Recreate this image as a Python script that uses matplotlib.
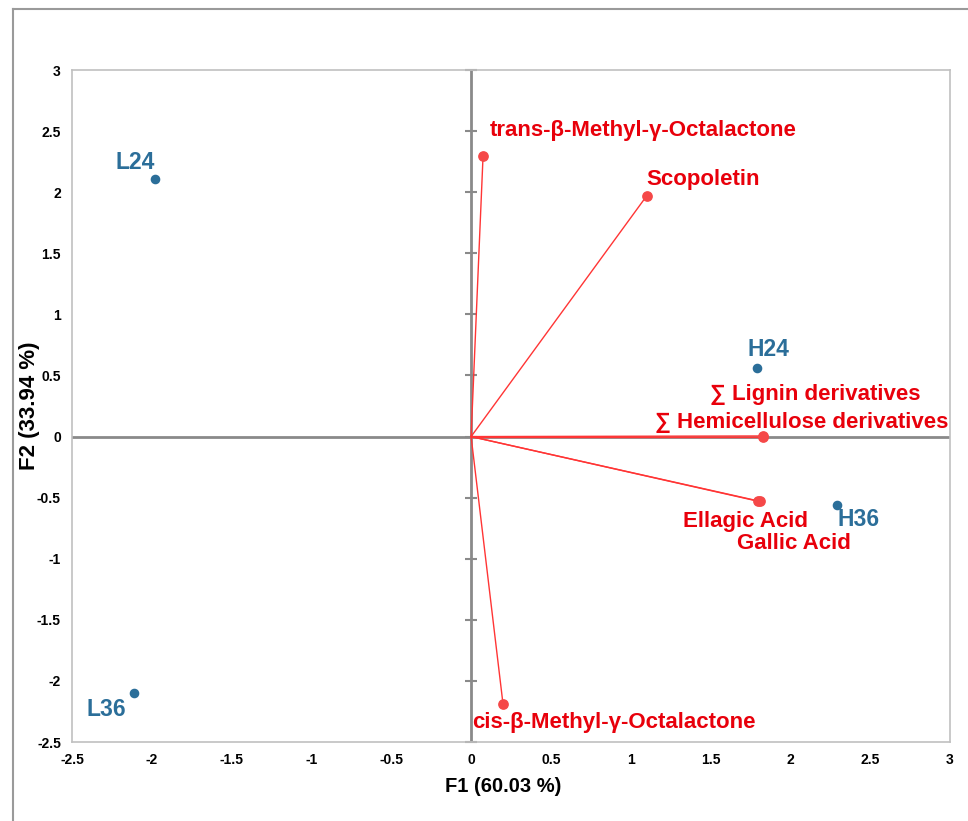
import numpy as np
import matplotlib.pyplot as plt
from matplotlib.lines import Line2D

plt.rcParams['font.family'] = ['Liberation Sans', 'DejaVu Sans']
plt.rcParams['font.weight'] = 'bold'

# observations (samples)
obs_names = ["L24", "L36", "H24", "H36"]
obs_f1 = [-1.98, -2.11, 1.79, 2.29]
obs_f2 = [2.11, -2.10, 0.56, -0.56]

# variables (loadings)
var_names = ["trans-β-Methyl-γ-Octalactone", "Scopoletin", "∑ Lignin derivatives",
             "∑ Hemicellulose derivatives", "Ellagic Acid", "Gallic Acid",
             "cis-β-Methyl-γ-Octalactone"]
var_f1 = [0.075, 1.10, 1.83, 1.83, 1.80, 1.81, 0.20]
var_f2 = [2.30, 1.97, 0.005, 0.0, -0.53, -0.53, -2.19]

xticks = [-2.5, -2, -1.5, -1, -0.5, 0, 0.5, 1, 1.5, 2, 2.5, 3]
yticks = [-2.5, -2, -1.5, -1, -0.5, 0, 0.5, 1, 1.5, 2, 2.5, 3]

# label offsets in pixels (dx, dy, ha)
obs_off = [(-20, 16, 'center'), (-28, -16, 'center'), (12, 19, 'center'), (1, -15, 'left')]
var_off = [(7, 25, 'left'), (0, 16, 'left'), (52, 41, 'center'), (38, 14, 'center'),
           (-13, -20, 'center'), (34, -42, 'center'), (-31, -18, 'left')]

blue = "#2b6e99"
red_pt = "#f54848"
red_txt = "#e8000b"

fig = plt.figure(figsize=(9.68, 8.21), dpi=100)
ax = fig.add_axes([0.0744, 0.0962, 0.907, 0.8185])

# outer frame (left and top edges visible)
fig.add_artist(Line2D([13 / 968, 13 / 968], [0, 1 - 9 / 821], color="#9a9a9a", lw=1.5,
                      transform=fig.transFigure))
fig.add_artist(Line2D([13 / 968, 1], [1 - 9 / 821, 1 - 9 / 821], color="#9a9a9a", lw=1.5,
                      transform=fig.transFigure))

ax.set_xlim(-2.5, 3)
ax.set_ylim(-2.5, 3)
ax.set_xticks(xticks)
ax.set_yticks(yticks)
ax.set_xticklabels([f"{t:g}" for t in xticks])
ax.set_yticklabels([f"{t:g}" for t in yticks])
ax.tick_params(length=0, labelsize=10, pad=8)
for lab in ax.get_xticklabels() + ax.get_yticklabels():
    lab.set_fontweight('bold')
for sp in ax.spines.values():
    sp.set_color("#c0c0c0")
    sp.set_linewidth(1.2)

# zero axes, vertical one with cross ticks
ax.axhline(0, color="#8a8a8a", lw=2, zorder=1)
ax.axvline(0, color="#8a8a8a", lw=2, zorder=1)
ax.plot(np.zeros(len(yticks)), yticks, ls='none', marker='_', ms=8, mew=1.5,
        color="#8a8a8a", zorder=1, clip_on=False)

# loading vectors
for x, y in zip(var_f1, var_f2):
    ax.plot([0, x], [0, y], color="#ff3535", lw=1, zorder=2)
ax.scatter(var_f1, var_f2, s=45, color=red_pt, zorder=3)
for name, x, y, (dx, dy, ha) in zip(var_names, var_f1, var_f2, var_off):
    ax.annotate(name, (x, y), xytext=(dx, dy), textcoords='offset pixels',
                ha=ha, va='center', color=red_txt, fontsize=16, fontweight='bold')

# observations
ax.scatter(obs_f1, obs_f2, s=35, color=blue, zorder=3)
for name, x, y, (dx, dy, ha) in zip(obs_names, obs_f1, obs_f2, obs_off):
    ax.annotate(name, (x, y), xytext=(dx, dy), textcoords='offset pixels',
                ha=ha, va='center', color=blue, fontsize=16.5, fontweight='bold')

ax.set_xlabel("F1 (60.03 %)", fontsize=14.5, fontweight='bold')
ax.set_ylabel("F2 (33.94 %)", fontsize=16, fontweight='bold')
ax.xaxis.set_label_coords(0.491, -0.052)
ax.yaxis.set_label_coords(-0.036, 0.5)

fig.savefig("out.png", dpi=100)
